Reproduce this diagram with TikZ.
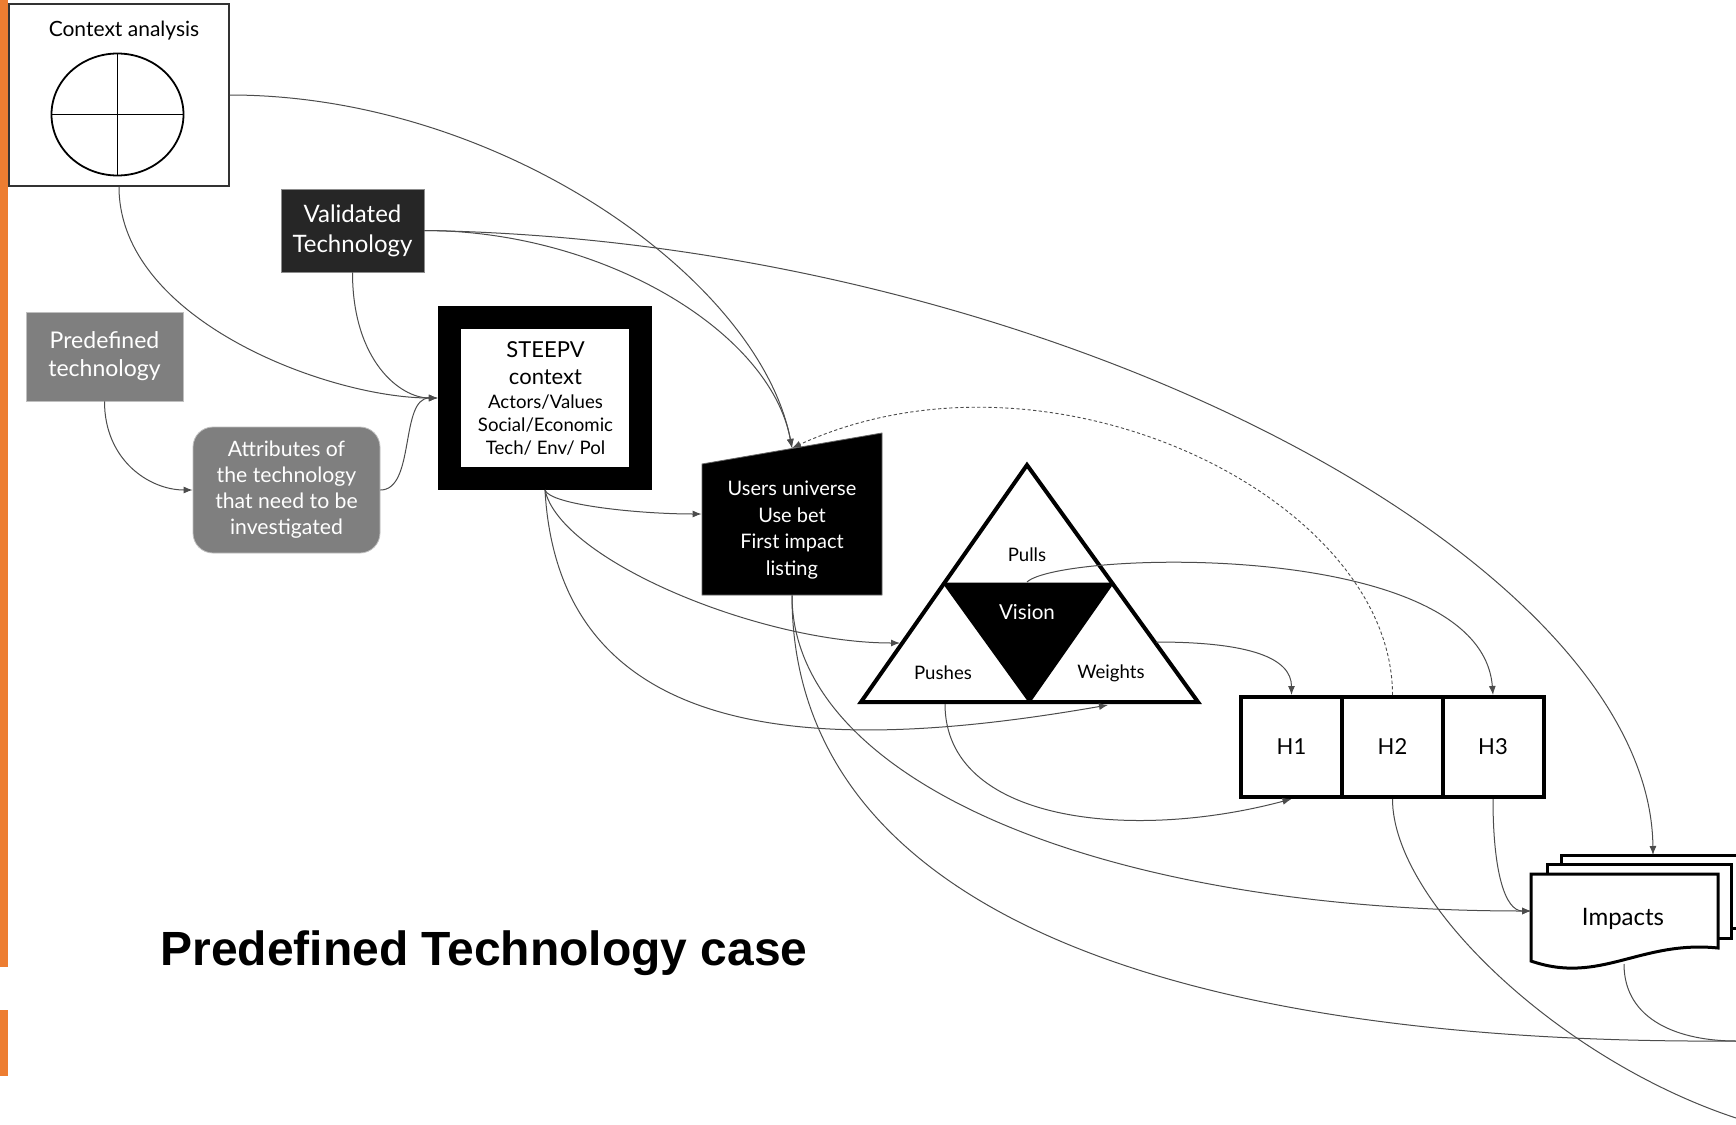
\documentclass[tikz,border=0pt]{standalone}
\usepackage{fontspec}
\setmainfont{Lato}
\newfontfamily\titlefont{Liberation Sans}
\usetikzlibrary{arrows.meta}
\definecolor{orng}{HTML}{ED7D31}
\definecolor{vdark}{HTML}{262626}
\definecolor{midgray}{HTML}{7F7F7F}
\begin{document}
\begin{tikzpicture}[x=0.5pt,y=-0.5pt,
  conn/.style={draw=black!70, line width=0.5pt},
  arr/.style={conn, -{Latex[length=4.5pt,width=3.5pt]}},
  dotarr/.style={draw=black!70, line width=0.45pt, dash pattern=on 1.6pt off 1.2pt, -{Latex[length=4.5pt,width=3.5pt]}},
  box/.style={inner sep=0pt, align=center},
  hbox/.style={draw=black, line width=2pt, minimum width=50.5pt, minimum height=50pt, inner sep=0pt, font=\fontsize{11}{13}\selectfont},
  tri/.style={font=\fontsize{9.3}{11}\selectfont}
]
\useasboundingbox (0,0) rectangle (1736,1125);
\fill[white] (0,0) rectangle (1736,1125);

% orange side bars
\fill[orng] (0,0) rectangle (8,967);
\fill[orng] (0,1010) rectangle (8,1076);

% Context analysis
\node[box, draw=black!80, line width=0.75pt, minimum width=110pt, minimum height=91pt] (ctx) at (119,95) {};
\node[font=\fontsize{10.5}{12}\selectfont] (ctxlabel) at (124,31) {Context analysis};
\draw[line width=0.9pt] (117.5,114.5) ellipse [x radius=33pt, y radius=30.5pt];
\draw[line width=0.9pt] (51.5,114.5) -- (183.5,114.5);
\draw[line width=0.9pt] (117.5,53.5) -- (117.5,175.5);

% Validated Technology
\node[box, fill=vdark, draw=black!45, line width=0.4pt, minimum width=71.5pt, minimum height=41.5pt,
  text=white, font=\fontsize{12}{15}\selectfont] (val) at (352.5,230.5) {Validated\\Technology};

% Predefined technology
\node[box, fill=midgray, draw=black!25, line width=0.4pt, minimum width=78.5pt, minimum height=44.5pt,
  text=white, font=\fontsize{11.5}{14}\selectfont] (pre) at (104.5,356.5) {Predefined\\technology};

% Attributes
\node[box, fill=midgray, draw=black!25, line width=0.4pt, rounded corners=10pt, minimum width=93.5pt, minimum height=63pt,
  text=white, font=\fontsize{10.6}{13}\selectfont] (att) at (286.5,490) {Attributes of\\the technology\\that need to be\\investigated};

% STEEPV
\node[draw=black, line width=11.5pt, minimum width=95.75pt, minimum height=80.5pt, inner sep=0pt] (steep) at (545,398) {};
\node[box, font=\fontsize{11}{13.5}\selectfont] (steepA) at (545.5,363.5) {STEEPV\\context};
\node[box, font=\fontsize{9.3}{11.5}\selectfont] (steepB) at (545.5,425) {Actors/Values\\Social/Economic\\Tech/ Env/ Pol};

% Users universe (trapezoid)
\draw[fill=black, draw=black!60, line width=0.4pt] (702,464) -- (882,433) -- (882,595) -- (702,595) -- cycle;
\node[inner sep=0pt, minimum width=90pt, minimum height=81pt] (users) at (792,514) {};
\node[box, text=white, font=\fontsize{10}{13.3}\selectfont] (userstext) at (792,530) {Users universe\\Use bet\\First impact\\listing};
\coordinate (usersTop) at (792,448);

% Triangle
\coordinate (tA) at (1027,465);
\coordinate (tL) at (861,702);
\coordinate (tR) at (1198,702);
\coordinate (tML) at (944,583.5);
\coordinate (tMR) at (1112.5,583.5);
\coordinate (tB) at (1029.5,702);
\fill[black] (tML) -- (tMR) -- (tB) -- cycle;
\draw[line width=1pt] (tML) -- (tMR) -- (tB) -- cycle;
\draw[line width=2pt, line join=miter] (tA) -- (tR) -- (tL) -- cycle;
\node[tri] (pulls) at (1027,555) {Pulls};
\node[text=white, font=\fontsize{10.3}{12}\selectfont] (vision) at (1027,612) {Vision};
\node[tri] (pushes) at (943,673) {Pushes};
\node[tri] (weights) at (1111,673) {Weights};
\coordinate (tLeftIn) at (900,643);
\coordinate (tBotIn) at (1108,705);
\coordinate (tWeiR) at (1156,642);
\coordinate (tVis) at (1027,582);
\coordinate (tPush) at (945,704);

% Horizons
\node[hbox] (h1) at (1291.5,747) {H1};
\node[hbox] (h2) at (1392.5,747) {H2};
\node[hbox] (h3) at (1493,747) {H3};

% Impacts (stacked documents)
\draw[line width=1.5pt, fill=white] (1561,855) rectangle (1760,928);
\draw[line width=1.5pt, fill=white] (1547,864) rectangle (1731,938);
\draw[line width=1.5pt, fill=white] (1531,874) -- (1718,874) -- (1718,948)
  .. controls (1640,940) and (1600,985) .. (1531,961) -- cycle;
\node[font=\fontsize{12}{14}\selectfont] (imp) at (1623,919) {Impacts};
\coordinate (impW) at (1531,911);
\coordinate (impS) at (1624,964);
\coordinate (impN) at (1653,855);
\coordinate (exitA) at (1736,1041);
\coordinate (exitB) at (1736,1118);

% Title
\node[anchor=base west, inner sep=0pt, font=\titlefont\bfseries\fontsize{24}{28}\selectfont] (title) at (160,965) {Predefined Technology case};

% Connectors
\draw[arr] (ctx.south) .. controls +(0,134) and +(-108,0) .. (steep.west);
\draw[arr] (val.south) .. controls +(0,88) and +(-38,0) .. (steep.west);
\draw[arr] (pre.south) .. controls +(0,59) and +(-43,0) .. (att.west);
\draw[arr] (att.east) .. controls +(35,0) and +(-38,0) .. (steep.west);
\draw[arr] (ctx.east) .. controls +(271,0) and +(-32,-168) .. (usersTop);
\draw[arr] (val.east) .. controls +(176,0) and +(-22,-118) .. (usersTop);
\draw[arr] (val.east) .. controls +(626,10) and +(-3,-295) .. (impN);
\draw[arr] (steep.south) .. controls +(5,15) and +(-62,0) .. (users.west);
\draw[arr] (steep.south) .. controls +(15,70) and +(-140,0) .. (tLeftIn);
\draw[arr] (steep.south) .. controls +(15,270) and +(-258,45) .. (tBotIn);
\draw[arr] (users.south) .. controls +(0,185) and +(-431,0) .. (impW);
\draw[conn] (users.south) .. controls +(0,305) and +(-586,4) .. (exitA);
\draw[conn] (h2.south) .. controls +(0,103) and +(-176,-58) .. (exitB);
\draw[conn] (impS) .. controls +(0,57) and +(-56,0) .. (exitA);
\draw[arr] (tPush) .. controls +(0,118) and +(-161,43) .. (h1.south);
\draw[arr] (tWeiR) .. controls +(94,0) and +(0,-37) .. (h1.north);
\draw[arr] (tVis) .. controls +(33,-31) and +(-12,-157) .. (h3.north);
\draw[dotarr] (h2.north) .. controls +(0,-197) and +(258,-118) .. (usersTop);
\draw[arr] (h3.south) .. controls +(0,73) and +(-26,0) .. (impW);
\end{tikzpicture}
\end{document}
